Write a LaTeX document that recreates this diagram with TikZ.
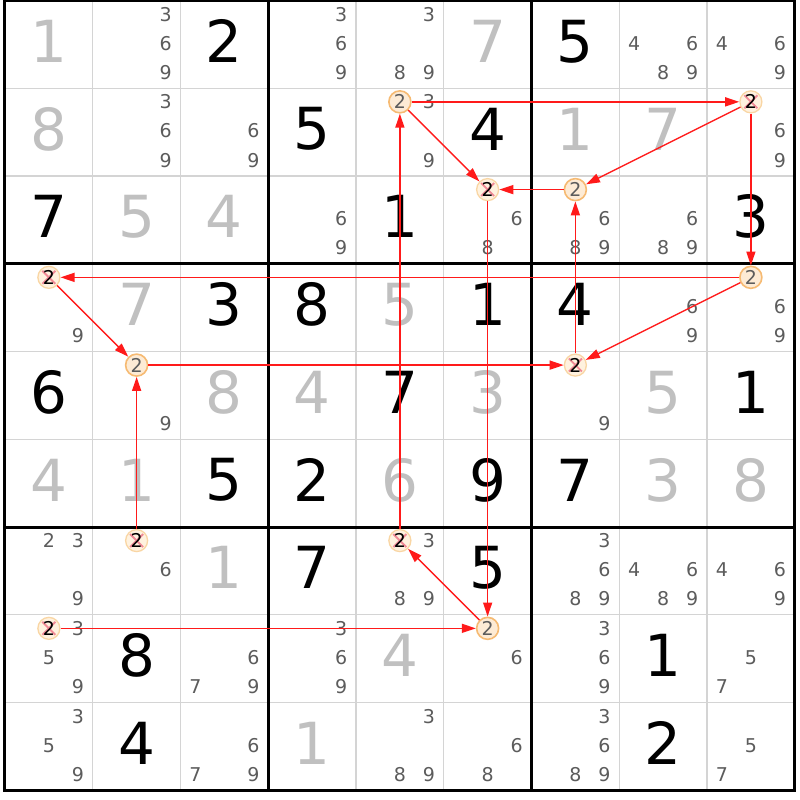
\documentclass[tikz,border=0pt]{standalone}
\usepackage{fontspec}
\usetikzlibrary{arrows.meta}
\newfontfamily\sudokufont{DejaVu Sans}
\newcommand\givenfont{\sudokufont\fontsize{58}{58}\selectfont}
\newcommand\candfont{\sudokufont\fontsize{19}{19}\selectfont}
\definecolor{gridgray}{HTML}{D4D4D4}
\definecolor{solvedgray}{HTML}{C0C0C0}
\definecolor{candgray}{HTML}{5C5C5C}
\definecolor{hlborder}{HTML}{F6BA72}
\definecolor{hlfill}{HTML}{FDEBD5}
\definecolor{elborder}{HTML}{F9D6A4}
\definecolor{elfill}{HTML}{FFF2DF}
\definecolor{xpink}{HTML}{F08A96}
\definecolor{chainred}{HTML}{FF1A1A}

\tikzset{
given/.style={font=\givenfont,text=black,inner sep=0pt},
solved/.style={font=\givenfont,text=solvedgray,inner sep=0pt},
cand/.style={font=\candfont,text=candgray,inner sep=0pt},
link/.style={circle,draw=hlborder,fill=hlfill,line width=1.6pt,
  minimum size=22pt,inner sep=0pt,font=\candfont,text=candgray},
elim/.style={circle,draw=elborder,fill=elfill,line width=1.3pt,
  minimum size=22pt,inner sep=0pt,font=\candfont,text=black,
  path picture={
    \draw[xpink,line width=1.8pt]
      ([shift={(-6.5pt,-6.5pt)}]path picture bounding box.center) --
      ([shift={(6.5pt,6.5pt)}]path picture bounding box.center);
    \draw[xpink,line width=1.8pt]
      ([shift={(-6.5pt,6.5pt)}]path picture bounding box.center) --
      ([shift={(6.5pt,-6.5pt)}]path picture bounding box.center);
  }},
chain/.style={draw=chainred,line width=1.4pt,
  -{Triangle[length=14pt,width=9pt,fill=chainred]}},
}

\begin{document}
\begin{tikzpicture}[x=87.75pt,y=-87.75pt]
\useasboundingbox (-5pt,0.5pt) rectangle (795pt,-799.5pt);
\fill[white] (-5pt,0.5pt) rectangle (795pt,-799.5pt);
% grid
\foreach \i in {1,2,4,5,7,8} {
\draw[gridgray,line width=1.2pt] (\i,0) -- (\i,9);
\draw[gridgray,line width=1.2pt] (0,\i) -- (9,\i);
}
\foreach \i in {0,3,6,9} {
\draw[black,line width=3pt] (\i,-0.017) -- (\i,9.017);
\draw[black,line width=3pt] (-0.017,\i) -- (9.017,\i);
}
% digits
\foreach \r/\c/\d in {1/3/2,1/7/5,2/4/5,2/6/4,3/1/7,3/5/1,3/9/3,4/3/3,4/4/8,4/6/1,
  4/7/4,5/1/6,5/5/7,5/9/1,6/3/5,6/4/2,6/6/9,6/7/7,7/4/7,7/6/5,8/2/8,8/8/1,9/2/4,9/8/2}
\node[given] (g\r\c) at ({\c-0.5},{\r-0.535}) {\d};
\foreach \r/\c/\d in {1/1/1,1/6/7,2/1/8,2/7/1,2/8/7,3/2/5,3/3/4,4/2/7,4/5/5,5/3/8,
  5/4/4,5/6/3,5/8/5,6/1/4,6/2/1,6/5/6,6/8/3,6/9/8,7/3/1,8/5/4,9/4/1}
\node[solved] (s\r\c) at ({\c-0.5},{\r-0.535}) {\d};
% candidates
\foreach \r/\c/\l in {1/2/{3,6,9},1/4/{3,6,9},1/5/{3,8,9},1/8/{4,6,8,9},1/9/{4,6,9},
  2/2/{3,6,9},2/3/{6,9},2/5/{3,9},2/9/{6,9},3/4/{6,9},3/6/{6,8},3/7/{6,8,9},
  3/8/{6,8,9},4/1/{9},4/8/{6,9},4/9/{6,9},5/2/{9},5/7/{9},7/1/{2,3,9},7/2/{6},
  7/5/{3,8,9},7/7/{3,6,8,9},7/8/{4,6,8,9},7/9/{4,6,9},8/1/{3,5,9},8/3/{6,7,9},
  8/4/{3,6,9},8/6/{6},8/7/{3,6,9},8/9/{5,7},9/1/{3,5,9},9/3/{6,7,9},9/5/{3,8,9},
  9/6/{6,8},9/7/{3,6,8,9},9/9/{5,7}} {
\foreach \d in \l {
\pgfmathtruncatemacro\k{mod(\d-1,3)}
\pgfmathtruncatemacro\j{div(\d-1,3)}
\node[cand] (c\r\c\d) at ({\c-1+0.17+0.33*\k},{\r-1+0.155+0.332*\j}) {\d};
}
}
% chain of 2s
\foreach \r/\c in {2/5,3/7,4/9,5/2,8/6}
\node[link] (n\r\c) at ({\c-0.5},{\r-1+0.155}) {2};
\foreach \r/\c in {2/9,3/6,4/1,5/7,7/2,7/5,8/1}
\node[elim] (n\r\c) at ({\c-0.5},{\r-1+0.155}) {2};
\foreach \a/\b in {25/29,29/37,29/49,37/36,25/36,36/86,86/75,75/25,
  57/37,49/41,49/57,52/57,41/52,72/52,81/86}
\draw[chain] (n\a) -- (n\b);
\end{tikzpicture}
\end{document}
